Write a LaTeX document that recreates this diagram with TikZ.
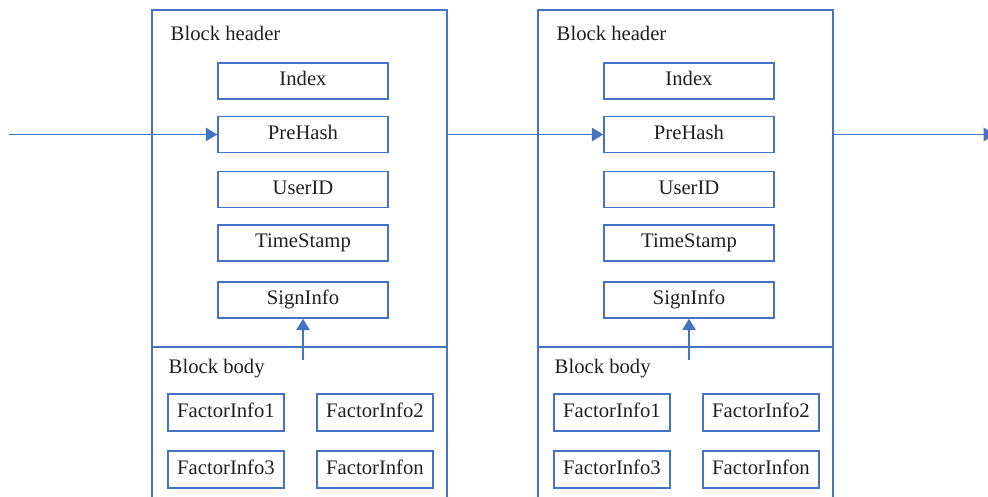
\documentclass[tikz,border=0pt]{standalone}
\usepackage{fontspec}
\setmainfont{Liberation Serif}
\usetikzlibrary{arrows.meta}
\definecolor{lineblue}{HTML}{4472C4}
\definecolor{ink}{HTML}{231F20}
\begin{document}
\begin{tikzpicture}[x=0.75pt,y=-0.75pt,
  line width=1.1pt,
  every node/.style={font=\fontsize{15.5}{18}\selectfont, text=ink},
  field/.style={draw=lineblue, minimum width=127.5pt, minimum height=27pt,
                inner sep=0pt, text height=1.6ex, text depth=0pt},
  factor/.style={draw=lineblue, minimum width=87pt, minimum height=27.5pt,
                 inner sep=0pt, text height=1.6ex, text depth=0pt},
  caption/.style={anchor=west, inner sep=0pt},
  arr/.style={draw=lineblue, -{Triangle[length=8.5pt,width=10pt]}}]
\useasboundingbox (0,0) rectangle (988,496);
\clip (0,0) rectangle (988,496);

\foreach \b/\dx in {a/0, b/386}{
  % outer block frame, open at the bottom
  \draw[lineblue] (152+\dx,501) |- (447+\dx,10) -- (447+\dx,501);
  \draw[lineblue] (152+\dx,347) -- (447+\dx,347);
  \coordinate (east-\b) at (447+\dx,134.5);
  \coordinate (bodytop-\b) at (303+\dx,360);

  \node[caption] (hdr-\b) at (170+\dx,33) {Block header};
  \node[field] (index-\b) at (303+\dx,81) {Index};
  \node[field] (pre-\b)   at (303+\dx,134.5) {PreHash};
  \node[field] (user-\b)  at (303+\dx,189.5) {UserID};
  \node[field] (time-\b)  at (303+\dx,243) {TimeStamp};
  \node[field] (sign-\b)  at (303+\dx,300) {SignInfo};

  \node[caption] (body-\b) at (168+\dx,369) {Block body};
  \node[factor] (f1-\b) at (226+\dx,412.5) {FactorInfo1};
  \node[factor] (f2-\b) at (375+\dx,412.5) {FactorInfo2};
  \node[factor] (f3-\b) at (226+\dx,469.5) {FactorInfo3};
  \node[factor] (fn-\b) at (375+\dx,469.5) {FactorInfon};

  \draw[arr] (bodytop-\b) -- (sign-\b.south);
}

\coordinate (in) at (9,134.5);
\coordinate (out) at (995,134.5);
\draw[arr] (in) -- (pre-a.west);
\draw[arr] (east-a) -- (pre-b.west);
\draw[arr] (east-b) -- (out);
\end{tikzpicture}
\end{document}
